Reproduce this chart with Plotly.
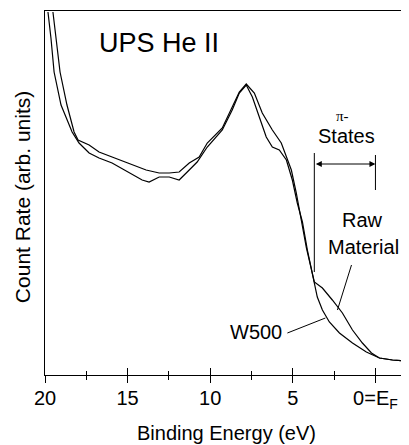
import plotly.graph_objects as go

# Binding energy (eV) and count rate (arb. units)
w500_energy = [19.82, 19.64, 19.45, 19.03, 18.36, 17.94, 17.33, 16.73, 15.94, 14.91, 14.12, 13.70,
               13.09, 12.48, 11.88, 11.27, 10.79, 10.18, 9.27, 8.67, 8.24, 7.82, 7.45, 7.03, 6.61,
               6.24, 5.82, 5.39, 5.03, 4.73, 4.42, 4.12, 3.70, 3.52, 3.21, 2.79, 2.18, 1.39, 0.55,
               -0.06, -0.24, -1.03, -1.94]
w500_counts = [363, 337, 303, 270, 243, 232, 222, 217, 212, 202, 195, 193,
               198, 198, 195, 205, 213, 228, 245, 265, 282, 290, 278, 258, 238,
               228, 225, 215, 195, 172, 153, 125, 93, 78, 65, 53, 42, 32, 23,
               18, 17, 15, 14]

raw_energy = [19.52, 19.33, 19.09, 18.67, 18.24, 18.00, 17.33, 16.73, 15.94, 14.91, 13.88, 13.09,
              12.48, 11.88, 11.27, 10.67, 10.18, 9.27, 8.67, 8.24, 7.82, 7.33, 6.85, 6.24, 5.70,
              5.39, 5.09, 4.79, 4.48, 4.18, 3.70, 3.21, 2.61, 2.00, 1.39, 0.79, 0.24, -0.24,
              -1.03, -1.94]
raw_counts = [363, 337, 303, 270, 243, 235, 230, 223, 218, 212, 205, 202,
              202, 203, 212, 218, 232, 247, 267, 283, 291, 282, 262, 245, 232,
              218, 205, 182, 155, 127, 93, 87, 75, 62, 45, 32, 22, 17,
              15, 14]

tick_vals = [20, 15, 10, 5, 0]
tick_text = ["20", "15", "10", "5", "0=E<sub>F</sub>"]

FONT = "Liberation Sans, Arial, sans-serif"
x_range = [20, -1.97]
y_range = [0, 364]

fig = go.Figure()
fig.add_trace(go.Scatter(x=w500_energy, y=w500_counts, mode="lines",
                         line=dict(color="black", width=1.2), name="W500", showlegend=False))
fig.add_trace(go.Scatter(x=raw_energy, y=raw_counts, mode="lines", xaxis="x2",
                         line=dict(color="black", width=1.2), name="Raw Material", showlegend=False))

# The page body adds an 8px offset, so the figure is 8px smaller than the window
fig.update_layout(
    width=401, height=437,
    margin=dict(l=37, r=1, t=3, b=70, autoexpand=False),
    paper_bgcolor="white", plot_bgcolor="white",
    font=dict(family=FONT, size=20, color="black"),
    xaxis=dict(range=x_range, tickvals=tick_vals, ticktext=tick_text,
               ticks="outside", ticklen=7, tickwidth=1, tickcolor="black",
               minor=dict(ticks="outside", ticklen=4, dtick=2.5, tick0=0, tickcolor="black"),
               showline=True, linecolor="black", linewidth=1, mirror=True,
               showgrid=False, zeroline=False, automargin=False,
               ticklabelstandoff=-2,
               tickfont=dict(size=20)),
    xaxis2=dict(range=x_range, overlaying="x", anchor="y", side="bottom",
                tickvals=tick_vals, showticklabels=False, automargin=False,
                ticks="inside", ticklen=7, tickwidth=1, tickcolor="black",
                minor=dict(ticks="inside", ticklen=4, dtick=2.5, tick0=0, tickcolor="black"),
                showline=False, showgrid=False, zeroline=False),
    yaxis=dict(range=y_range, showticklabels=False, ticks="", automargin=False,
               showline=True, linecolor="black", linewidth=1, mirror=True,
               showgrid=False, zeroline=False),
)

# Axis titles
fig.add_annotation(x=0.501, y=-0.16, xref="paper", yref="paper", text="Binding Energy (eV)",
                   showarrow=False, xanchor="center", yanchor="middle",
                   font=dict(size=20, family=FONT, color="black"))
fig.add_annotation(x=-0.063, y=0.489, xref="paper", yref="paper", text="Count Rate (arb. units)",
                   showarrow=False, xanchor="center", yanchor="middle", textangle=-90,
                   font=dict(size=21, family=FONT, color="black"))

# Bracket marking the pi-states region
fig.add_shape(type="line", xref="x", yref="y", x0=3.7, x1=3.7, y0=103, y1=222,
              line=dict(color="black", width=1))
fig.add_shape(type="line", xref="x", yref="y", x0=0, x1=0, y0=185, y1=220,
              line=dict(color="black", width=1))
fig.add_annotation(x=0, y=211, ax=3.7, ay=211, xref="x", yref="y", axref="x", ayref="y",
                   text="", showarrow=True, arrowside="end+start", arrowhead=2,
                   arrowsize=1.2, arrowwidth=1, arrowcolor="black")

# Leader lines for labels
fig.add_shape(type="line", xref="x", yref="y", x0=1.45, y0=110, x1=2.30, y1=65,
              line=dict(color="black", width=1))
fig.add_shape(type="line", xref="x", yref="y", x0=5.33, y0=42, x1=3.03, y1=57,
              line=dict(color="black", width=1))

texts = [
    dict(x=13.09, y=332, text="UPS He II", size=27, family=FONT),
    dict(x=2.0, y=259, text="π-", size=15, family="Liberation Serif, Times New Roman, serif"),
    dict(x=1.76, y=239, text="States", size=20, family=FONT),
    dict(x=0.79, y=155, text="Raw", size=20, family=FONT),
    dict(x=0.73, y=128, text="Material", size=20, family=FONT),
    dict(x=7.21, y=43, text="W500", size=20, family=FONT),
]
for t in texts:
    fig.add_annotation(x=t["x"], y=t["y"], xref="x", yref="y", text=t["text"], showarrow=False,
                       xanchor="center", yanchor="middle",
                       font=dict(size=t["size"], family=t["family"], color="black"))

fig.write_html("out.html")
